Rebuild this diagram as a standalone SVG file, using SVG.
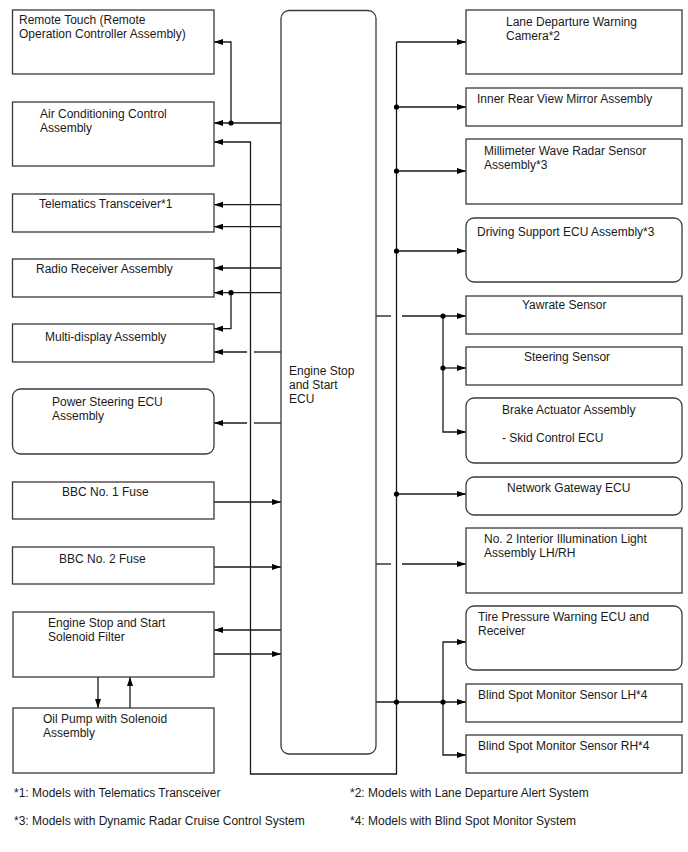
<svg xmlns="http://www.w3.org/2000/svg" width="688" height="852" viewBox="0 0 688 852">
<style>
.box{fill:#fff;stroke:#3a3a3a;stroke-width:1.3}
.ln{fill:none;stroke:#1a1a1a;stroke-width:1.3}
.arr{marker-end:url(#ah)}
text{font-family:"Liberation Sans",Arial,sans-serif;font-size:12px;fill:#1a1a1a}
.dot{fill:#000}
</style>
<defs>
<marker id="ah" markerUnits="userSpaceOnUse" markerWidth="10" markerHeight="8" refX="9" refY="3" orient="auto">
<path d="M0,0 L9,3 L0,6 z" fill="#000"/>
</marker>
</defs>
<g id="connectors">
<!-- left side -->
<path class="ln arr" d="M281,123 H214"/>
<path class="ln arr" d="M231,123 V42 H214"/>
<path class="ln arr" d="M396.5,42 V774 H250.5 V142 H214"/>
<path class="ln arr" d="M281,204.7 H214"/>
<path class="ln arr" d="M281,226.7 H214"/>
<path class="ln arr" d="M281,268 H214"/>
<path class="ln arr" d="M281,292.7 H214"/>
<path class="ln arr" d="M231,292.7 V328.7 H214"/>
<path class="ln" d="M281,352 H254"/>
<path class="ln arr" d="M247,352 H214"/>
<path class="ln" d="M281,423 H254"/>
<path class="ln arr" d="M247,423 H214"/>
<path class="ln arr" d="M214,502 H281"/>
<path class="ln arr" d="M214,567 H281"/>
<path class="ln arr" d="M281,630 H214"/>
<path class="ln arr" d="M214,654 H281"/>
<path class="ln arr" d="M98,677 V708"/>
<path class="ln arr" d="M130,708 V677"/>
<!-- right side -->
<path class="ln arr" d="M396.5,42 H466"/>
<path class="ln arr" d="M396.5,107 H466"/>
<path class="ln arr" d="M396.5,171 H466"/>
<path class="ln arr" d="M396.5,251 H466"/>
<path class="ln" d="M376,316 H391"/>
<path class="ln arr" d="M402,316 H466"/>
<path class="ln arr" d="M443,316 V432 H466"/>
<path class="ln arr" d="M443,368 H466"/>
<path class="ln arr" d="M396.5,494 H466"/>
<path class="ln" d="M376,564 H391"/>
<path class="ln arr" d="M402,564 H466"/>
<path class="ln arr" d="M376,702 H466"/>
<path class="ln arr" d="M443,702 V642 H466"/>
<path class="ln arr" d="M443,702 V755 H466"/>
<circle class="dot" cx="231" cy="123" r="2.6"/>
<circle class="dot" cx="231" cy="292.7" r="2.6"/>
<circle class="dot" cx="396.5" cy="107" r="2.6"/>
<circle class="dot" cx="396.5" cy="171" r="2.6"/>
<circle class="dot" cx="396.5" cy="251" r="2.6"/>
<circle class="dot" cx="443" cy="316" r="2.6"/>
<circle class="dot" cx="443" cy="368" r="2.6"/>
<circle class="dot" cx="396.5" cy="494" r="2.6"/>
<circle class="dot" cx="396.5" cy="702" r="2.6"/>
<circle class="dot" cx="443" cy="702" r="2.6"/>
</g>
<g id="ecu">
<rect class="box" x="281" y="10.5" width="95" height="743.5" rx="8"/>
<text x="289" y="375">Engine Stop</text>
<text x="289" y="389">and Start</text>
<text x="289" y="403">ECU</text>
</g>
<g id="remote-touch">
<rect class="box" x="12.5" y="10" width="201.5" height="64"/>
<text x="19" y="24">Remote Touch (Remote</text>
<text x="19" y="38">Operation Controller Assembly)</text>
</g>
<g id="air-conditioning">
<rect class="box" x="12.5" y="102" width="201.5" height="64"/>
<text x="40" y="118">Air Conditioning Control</text>
<text x="40" y="132">Assembly</text>
</g>
<g id="telematics">
<rect class="box" x="12.5" y="194" width="201.5" height="38"/>
<text x="39" y="208">Telematics Transceiver*1</text>
</g>
<g id="radio">
<rect class="box" x="12.5" y="259" width="201.5" height="38"/>
<text x="36" y="273">Radio Receiver Assembly</text>
</g>
<g id="multi-display">
<rect class="box" x="12.5" y="324" width="201.5" height="38"/>
<text x="45" y="341">Multi-display Assembly</text>
</g>
<g id="power-steering">
<rect class="box" x="12.5" y="389" width="201.5" height="65" rx="8"/>
<text x="52" y="406">Power Steering ECU</text>
<text x="52" y="420">Assembly</text>
</g>
<g id="bbc1">
<rect class="box" x="12.5" y="482" width="201.5" height="37"/>
<text x="62" y="496">BBC No. 1 Fuse</text>
</g>
<g id="bbc2">
<rect class="box" x="12.5" y="547" width="201.5" height="37"/>
<text x="59" y="563">BBC No. 2 Fuse</text>
</g>
<g id="solenoid-filter">
<rect class="box" x="13" y="612" width="201" height="65"/>
<text x="48" y="627">Engine Stop and Start</text>
<text x="48" y="641">Solenoid Filter</text>
</g>
<g id="oil-pump">
<rect class="box" x="13" y="708" width="201" height="65"/>
<text x="43" y="723">Oil Pump with Solenoid</text>
<text x="43" y="737">Assembly</text>
</g>
<g id="lane-departure">
<rect class="box" x="466" y="10" width="216" height="64"/>
<text x="506" y="26">Lane Departure Warning</text>
<text x="506" y="40">Camera*2</text>
</g>
<g id="inner-mirror">
<rect class="box" x="466" y="88" width="216" height="38"/>
<text x="477" y="103">Inner Rear View Mirror Assembly</text>
</g>
<g id="radar">
<rect class="box" x="466" y="139" width="216" height="65"/>
<text x="484" y="155">Millimeter Wave Radar Sensor</text>
<text x="484" y="169">Assembly*3</text>
</g>
<g id="driving-support">
<rect class="box" x="466" y="218" width="216" height="64" rx="8"/>
<text x="477" y="236">Driving Support ECU Assembly*3</text>
</g>
<g id="yawrate">
<rect class="box" x="466" y="296" width="216" height="38"/>
<text x="522" y="309">Yawrate Sensor</text>
</g>
<g id="steering-sensor">
<rect class="box" x="466" y="347" width="216" height="38"/>
<text x="524" y="361">Steering Sensor</text>
</g>
<g id="brake-actuator">
<rect class="box" x="466" y="398" width="216" height="65" rx="8"/>
<text x="502" y="414">Brake Actuator Assembly</text>
<text x="502" y="442">- Skid Control ECU</text>
</g>
<g id="network-gateway">
<rect class="box" x="466" y="477" width="216" height="38" rx="8"/>
<text x="507" y="492">Network Gateway ECU</text>
</g>
<g id="interior-light">
<rect class="box" x="466" y="528" width="216" height="65"/>
<text x="484" y="543">No. 2 Interior Illumination Light</text>
<text x="484" y="557">Assembly LH/RH</text>
</g>
<g id="tire-pressure">
<rect class="box" x="466" y="606" width="216" height="64" rx="8"/>
<text x="478" y="621">Tire Pressure Warning ECU and</text>
<text x="478" y="635">Receiver</text>
</g>
<g id="bsm-lh">
<rect class="box" x="466" y="684" width="216" height="38"/>
<text x="478" y="699">Blind Spot Monitor Sensor LH*4</text>
</g>
<g id="bsm-rh">
<rect class="box" x="466" y="735" width="216" height="38"/>
<text x="478" y="750">Blind Spot Monitor Sensor RH*4</text>
</g>
<g id="footnotes">
<text x="14" y="797">*1: Models with Telematics Transceiver</text>
<text x="350" y="797">*2: Models with Lane Departure Alert System</text>
<text x="14" y="825">*3: Models with Dynamic Radar Cruise Control System</text>
<text x="350" y="825">*4: Models with Blind Spot Monitor System</text>
</g>
</svg>
